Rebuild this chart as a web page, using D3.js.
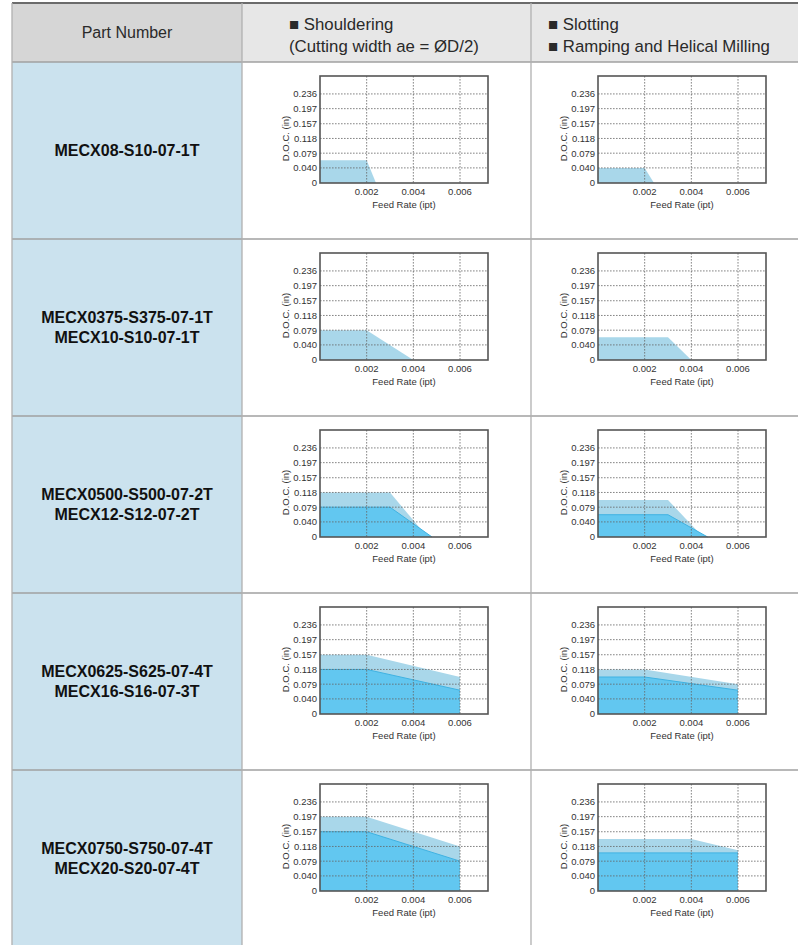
<!DOCTYPE html>
<meta charset="utf-8">
<title>DOC vs feed rate</title>
<style>
body { margin: 0; background: #fff; }
svg { display: block; }
</style>
<svg></svg>
<script src="https://cdn.jsdelivr.net/npm/d3@7"></script>
<script>
// table content
var headers = [["Part Number"], ["\u25A0 Shouldering", "(Cutting width ae = \u00D8D/2)"], ["\u25A0 Slotting", "\u25A0 Ramping and Helical Milling"]];
var parts = [
  ["MECX08-S10-07-1T"],
  ["MECX0375-S375-07-1T", "MECX10-S10-07-1T"],
  ["MECX0500-S500-07-2T", "MECX12-S12-07-2T"],
  ["MECX0625-S625-07-4T", "MECX16-S16-07-3T"],
  ["MECX0750-S750-07-4T", "MECX20-S20-07-4T"]
];

// axes
var xTicks = [0.002, 0.004, 0.006];
var yTicks = [0.040, 0.079, 0.118, 0.157, 0.197, 0.236];
var xMax = 0.0072, yMax = 0.2835;

// [feed rate (ipt), D.O.C. (in)] along the top of each area
var shoulderOuter = [
  [[0, 0.06], [0.002, 0.06], [0.0024, 0]],
  [[0, 0.079], [0.002, 0.079], [0.004, 0]],
  [[0, 0.118], [0.003, 0.118], [0.0046, 0]],
  [[0, 0.157], [0.002, 0.157], [0.006, 0.098]],
  [[0, 0.197], [0.002, 0.197], [0.006, 0.118]]
];
var shoulderInner = [
  null,
  null,
  [[0, 0.079], [0.003, 0.079], [0.0048, 0]],
  [[0, 0.118], [0.002, 0.118], [0.006, 0.063]],
  [[0, 0.157], [0.002, 0.157], [0.006, 0.079]]
];
var slotOuter = [
  [[0, 0.04], [0.002, 0.04], [0.0024, 0]],
  [[0, 0.06], [0.003, 0.06], [0.004, 0]],
  [[0, 0.098], [0.003, 0.098], [0.0045, 0]],
  [[0, 0.118], [0.002, 0.118], [0.006, 0.079]],
  [[0, 0.138], [0.004, 0.138], [0.006, 0.108]]
];
var slotInner = [
  null,
  null,
  [[0, 0.059], [0.003, 0.059], [0.0047, 0]],
  [[0, 0.098], [0.002, 0.098], [0.006, 0.063]],
  [[0, 0.101], [0.006, 0.101]]
];

var width = 798, height = 945;
var svg = d3.select("svg").attr("width", width).attr("height", height);

var colX = [12, 242, 531, 798];
var headTop = 3, headBottom = 62, rowH = 177;

// header backgrounds
svg.append("rect").attr("x", colX[0]).attr("y", headTop).attr("width", colX[1] - colX[0]).attr("height", headBottom - headTop).attr("fill", "#d6d6d6");
svg.append("rect").attr("x", colX[1]).attr("y", headTop).attr("width", colX[3] - colX[1]).attr("height", headBottom - headTop).attr("fill", "#e7e7e7");
// part number column
svg.append("rect").attr("x", colX[0]).attr("y", headBottom).attr("width", colX[1] - colX[0]).attr("height", height - headBottom).attr("fill", "#cbe2ee");

// header text
svg.append("text")
  .attr("x", (colX[0] + colX[1]) / 2)
  .attr("y", 38)
  .attr("text-anchor", "middle")
  .attr("font-family", "Liberation Sans, sans-serif")
  .attr("font-size", 16)
  .attr("fill", "#2a2a2a")
  .text(headers[0][0]);

[1, 2].forEach(function(c) {
  headers[c].forEach(function(t, i) {
    svg.append("text")
      .attr("x", c == 1 ? 289 : 548)
      .attr("y", 30 + i * 22)
      .attr("font-family", "Liberation Sans, sans-serif")
      .attr("font-size", 16.8)
      .attr("fill", "#2a2a2a")
      .text(t);
  });
});

// part labels
parts.forEach(function(p, i) {
  var top = headBottom + i * rowH;
  p.forEach(function(t, j) {
    svg.append("text")
      .attr("x", (colX[0] + colX[1]) / 2)
      .attr("y", top + 88 + (j - (p.length - 1) / 2) * 20)
      .attr("dy", "0.35em")
      .attr("text-anchor", "middle")
      .attr("font-family", "Liberation Sans, sans-serif")
      .attr("font-weight", "bold")
      .attr("font-size", 16)
      .attr("fill", "#111")
      .text(t);
  });
});

// table lines
svg.append("line").attr("x1", colX[0]).attr("x2", width).attr("y1", headTop).attr("y2", headTop).attr("stroke", "#6b6b6b").attr("stroke-width", 2);
for (var r = 0; r <= parts.length; r++) {
  var yy = headBottom + r * rowH;
  svg.append("line").attr("x1", colX[0]).attr("x2", width).attr("y1", yy).attr("y2", yy).attr("stroke", "#a0a0a0").attr("stroke-width", 1.3);
}
[colX[0], colX[1], colX[2]].forEach(function(x) {
  svg.append("line").attr("x1", x).attr("x2", x).attr("y1", headTop).attr("y2", height).attr("stroke", "#b0b0b0").attr("stroke-width", 1.3);
});

var fmt = d3.format(".3f");

function chart(left, top, outer, inner) {
  var w = 168, h = 107;
  var x = d3.scaleLinear().domain([0, xMax]).range([left, left + w]);
  var y = d3.scaleLinear().domain([0, yMax]).range([top + h, top]);
  var g = svg.append("g");

  g.append("rect").attr("x", left).attr("y", top).attr("width", w).attr("height", h).attr("fill", "#fff");

  var area = d3.area()
    .x(function(d) { return x(d[0]); })
    .y0(y(0))
    .y1(function(d) { return y(d[1]); });
  var line = d3.line()
    .x(function(d) { return x(d[0]); })
    .y(function(d) { return y(d[1]); });

  g.append("path").attr("d", area(outer)).attr("fill", "#a9d7ea");
  if (inner) {
    g.append("path").attr("d", area(inner)).attr("fill", "#62c7f0");
    g.append("path").attr("d", line(inner)).attr("fill", "none").attr("stroke", "#3fb2e2").attr("stroke-width", 1);
  }

  // dotted grid
  g.selectAll(".gx").data(xTicks).enter().append("line")
    .attr("x1", x).attr("x2", x).attr("y1", top).attr("y2", top + h)
    .attr("stroke", "#666").attr("stroke-width", 0.8).attr("stroke-dasharray", "1.6,1.4");
  g.selectAll(".gy").data(yTicks).enter().append("line")
    .attr("x1", left).attr("x2", left + w).attr("y1", y).attr("y2", y)
    .attr("stroke", "#666").attr("stroke-width", 0.8).attr("stroke-dasharray", "1.6,1.4");

  g.append("rect").attr("x", left).attr("y", top).attr("width", w).attr("height", h)
    .attr("fill", "none").attr("stroke", "#555").attr("stroke-width", 1.6);

  var lab = g.append("g").attr("font-family", "Liberation Sans, sans-serif").attr("font-size", 9.5).attr("fill", "#333");

  lab.selectAll(".yt").data([0].concat(yTicks)).enter().append("text")
    .attr("x", left - 3)
    .attr("y", y)
    .attr("dy", "0.35em")
    .attr("text-anchor", "end")
    .text(function(d) { return d === 0 ? "0" : fmt(d); });

  lab.selectAll(".xt").data(xTicks).enter().append("text")
    .attr("x", x)
    .attr("y", top + h + 12)
    .attr("text-anchor", "middle")
    .text(fmt);

  lab.append("text")
    .attr("x", left + w / 2)
    .attr("y", top + h + 25)
    .attr("text-anchor", "middle")
    .text("Feed Rate (ipt)");

  lab.append("text")
    .attr("transform", "translate(" + (left - 34) + "," + y(0.118) + ") rotate(-90)")
    .attr("dy", "0.35em")
    .attr("text-anchor", "middle")
    .text("D.O.C. (in)");
}

parts.forEach(function(p, i) {
  var top = headBottom + i * rowH + 14;
  chart(320, top, shoulderOuter[i], shoulderInner[i]);
  chart(598, top, slotOuter[i], slotInner[i]);
});
</script>
